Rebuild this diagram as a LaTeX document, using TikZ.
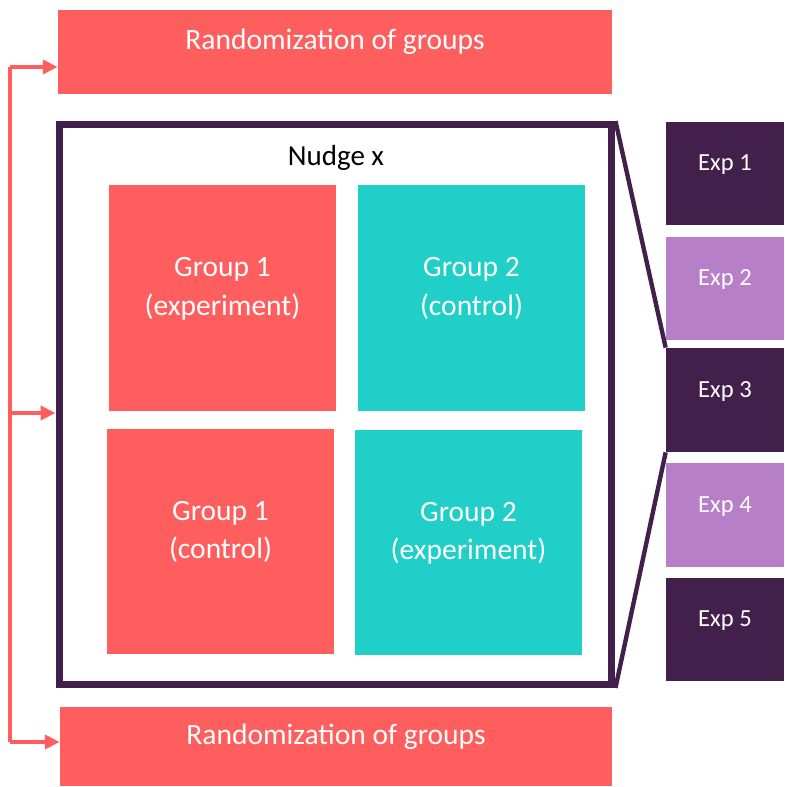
\documentclass[tikz,border=0pt]{standalone}
\usepackage{fontspec}
\setmainfont{Carlito}
\usetikzlibrary{arrows.meta}
\definecolor{coral}{HTML}{FF5E5E}
\definecolor{teal}{HTML}{20D0C8}
\definecolor{plum}{HTML}{42204B}
\definecolor{lilac}{HTML}{B77FC7}
\begin{document}
\begin{tikzpicture}[x=0.02cm, y=-0.02cm,
    randbox/.style={fill=coral, text=white, text depth=14pt, font=\fontsize{16.8}{20}\selectfont},
    groupbox/.style={minimum width=4.54cm, minimum height=4.52cm, text=white, align=center, text depth=13pt, font=\fontsize{16.8}{22}\selectfont},
    expbox/.style={minimum width=2.36cm, minimum height=2.08cm, text=white, text depth=12pt, font=\fontsize{14}{17}\selectfont},
    rail/.style={draw=coral, line width=2.6pt},
    railarrow/.style={rail, -{Triangle[length=8.5pt, width=8pt]}},
    link/.style={draw=plum, line width=2.5pt}]
            \useasboundingbox (0,0) rectangle (784,787);
            \node [randbox, minimum width=11.08cm, minimum height=1.68cm] (rand1) at (335,52) {Randomization of groups};
            \node [randbox, minimum width=11.04cm, minimum height=1.58cm] (rand2) at (336,746.5) {Randomization of groups};
            \node [draw=plum, line width=4pt, minimum width=11.06cm, minimum height=11.2cm] (nudge) at (335.5,404.5) {};
            \node (nudgelabel) at (336,158) {\fontsize{16.5}{19}\selectfont Nudge x};
            \node [groupbox, fill=coral] (g1exp) at (222.5,298) {Group 1\\(experiment)};
            \node [groupbox, fill=teal] (g2ctl) at (471.5,298) {Group 2\\(control)};
            \node [groupbox, fill=coral] (g1ctl) at (220.5,541.5) {Group 1\\(control)};
            \node [groupbox, fill=teal] (g2exp) at (468.5,542.5) {Group 2\\(experiment)};
            \node [expbox, fill=plum] (exp1) at (725,173.5) {Exp 1};
            \node [expbox, fill=lilac] (exp2) at (725,288.5) {Exp 2};
            \node [expbox, fill=plum] (exp3) at (725,400) {Exp 3};
            \node [expbox, fill=lilac] (exp4) at (725,515) {Exp 4};
            \node [expbox, fill=plum] (exp5) at (725,629.5) {Exp 5};
            \coordinate (railtop) at (10,67);
            \coordinate (railmid) at (10,413);
            \coordinate (railbot) at (10,742);
            \path [rail] (railtop) -- (railbot);
            \path [railarrow] (railtop) -- (railtop -| rand1.west);
            \path [railarrow] (railmid) -- (railmid -| nudge.west);
            \path [railarrow] (railbot) -- (railbot -| rand2.west);
            \path [link] (nudge.north east) -- (exp3.north west);
            \path [link] (nudge.south east) -- (exp3.south west);
        \end{tikzpicture}
\end{document}
